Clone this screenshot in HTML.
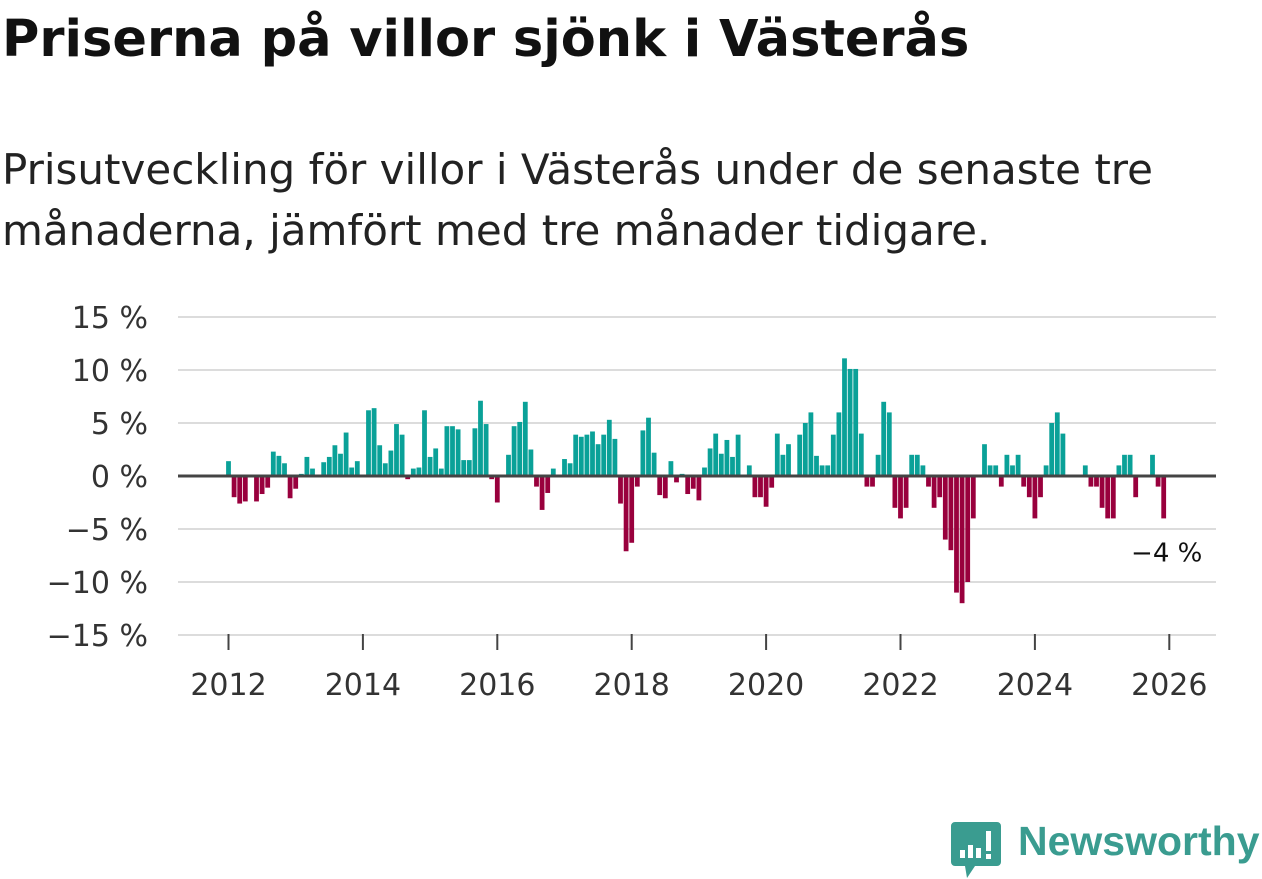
<!DOCTYPE html>
<html><head><meta charset="utf-8">
<style>
body{margin:0;width:1262px;height:879px;background:#fff;font-family:"DejaVu Sans","Liberation Sans",sans-serif;overflow:hidden;position:relative}
h1{position:absolute;left:2px;top:10px;margin:0;font-size:51px;font-weight:bold;color:#111;white-space:nowrap}
.sub{position:absolute;left:2px;top:139px;margin:0;font-size:42px;line-height:61px;color:#222;white-space:nowrap}
svg{position:absolute;left:0;top:0}
.logo{position:absolute;left:1018px;top:818px;font-family:"Liberation Sans",sans-serif;font-size:41px;font-weight:bold;color:#3a9c90}
</style></head><body>
<h1>Priserna på villor sjönk i Västerås</h1>
<p class="sub">Prisutveckling för villor i Västerås under de senaste tre<br>månaderna, jämfört med tre månader tidigare.</p>
<svg id="chart" width="1262" height="879">
  <g id="grid"></g><g id="bars"></g><g id="axes"></g>
  <g>
    <path d="M955 822 h42 a4 4 0 0 1 4 4 v36 a4 4 0 0 1 -4 4 h-22 l-8 12 l-2 -12 h-10 a4 4 0 0 1 -4 -4 v-36 a4 4 0 0 1 4 -4z" fill="#3a9c90"/>
    <rect x="960" y="850" width="5" height="8" fill="#fff"/><rect x="968" y="845" width="5" height="13" fill="#fff"/><rect x="976" y="848" width="5" height="10" fill="#fff"/><rect x="986" y="831" width="5" height="20" fill="#fff"/><rect x="986" y="854" width="5" height="5" fill="#fff"/>
  </g>
</svg>
<div class="logo">Newsworthy</div>
<script>
const values = [
1.4,-2.0,-2.6,-2.4,0,-2.4,-1.7,-1.1,2.3,1.9,1.2,-2.1,
-1.2,0.2,1.8,0.7,0,1.3,1.8,2.9,2.1,4.1,0.8,1.4,
0,6.2,6.4,2.9,1.2,2.4,4.9,3.9,-0.3,0.7,0.8,6.2,
1.8,2.6,0.7,4.7,4.7,4.4,1.5,1.5,4.5,7.1,4.9,-0.3,
-2.5,0,2.0,4.7,5.1,7.0,2.5,-1.0,-3.2,-1.6,0.7,0,
1.6,1.2,3.9,3.7,3.9,4.2,3.0,3.9,5.3,3.5,-2.6,-7.1,
-6.3,-1.0,4.3,5.5,2.2,-1.8,-2.1,1.4,-0.6,0.2,-1.7,-1.2,
-2.3,0.8,2.6,4.0,2.1,3.4,1.8,3.9,0,1.0,-2.0,-2.0,
-2.9,-1.1,4.0,2.0,3.0,0,3.9,5.0,6.0,1.9,1.0,1.0,
3.9,6.0,11.1,10.1,10.1,4.0,-1.0,-1.0,2.0,7.0,6.0,-3.0,
-4.0,-3.0,2.0,2.0,1.0,-1.0,-3.0,-2.0,-6.0,-7.0,-11.0,-12.0,
-10.0,-4.0,0,3.0,1.0,1.0,-1.0,2.0,1.0,2.0,-1.0,-2.0,
-4.0,-2.0,1.0,5.0,6.0,4.0,0,0,0,1.0,-1.0,-1.0,
-3.0,-4.0,-4.0,1.0,2.0,2.0,-2.0,0,0,2.0,-1.0,-4.0
];
const yTicks = [15,10,5,0,-5,-10,-15];
const yTickLabels = ["15 %","10 %","5 %","0 %","−5 %","−10 %","−15 %"];
const xTickYears = [2012,2014,2016,2018,2020,2022,2024,2026];
const lastLabel = "−4 %";

const NS="http://www.w3.org/2000/svg";
const y0=476, pxPer=10.6;
function yScale(v){return y0 - v*pxPer;}
function xScale(m){return 228.5 + m*5.6;}
function mk(tag,attrs,parent){const e=document.createElementNS(NS,tag);for(const k in attrs)e.setAttribute(k,attrs[k]);parent.appendChild(e);return e;}
const grid=document.getElementById('grid'), bars=document.getElementById('bars'), axes=document.getElementById('axes');
yTicks.forEach((t,i)=>{
  const l=mk('line',{x1:178,x2:1216,y1:yScale(t),y2:yScale(t),stroke:'#dcdcdc','stroke-width':2},grid);
  
  
  const tx=mk('text',{x:148,y:yScale(t)+11,'text-anchor':'end','font-size':30,fill:'#333','font-family':'DejaVu Sans, sans-serif'},axes);
  tx.textContent=yTickLabels[i];
  
  
});
values.forEach((v,i)=>{
  if(v===0)return;
  const x=xScale(i), y=yScale(Math.max(v,0)), h=Math.abs(v)*pxPer;
  const r=mk('rect',{x:x-2.4,y:y,width:4.8,height:h,fill:v>0?'#0aa198':'#99003d'},bars);
  
  
});
const z=mk('line',{x1:178,x2:1216,y1:y0,y2:y0,stroke:'#444','stroke-width':3},axes);


xTickYears.forEach(yr=>{
  const x=xScale((yr-2012)*12);
  const t=mk('line',{x1:x,x2:x,y1:634,y2:650,stroke:'#444','stroke-width':2},axes);
  
  
  const tx=mk('text',{x:x,y:695,'text-anchor':'middle','font-size':30,fill:'#333','font-family':'DejaVu Sans, sans-serif'},axes);
  tx.textContent=yr;
  
  
});
const li=values.length-1;
const lab=mk('text',{x:xScale(li)+3,y:yScale(values[li])+43,'text-anchor':'middle','font-size':26,fill:'#111',stroke:'#fff','stroke-width':6,'paint-order':'stroke','font-family':'DejaVu Sans, sans-serif'},axes);
lab.textContent=lastLabel;


</script>
</body></html>
